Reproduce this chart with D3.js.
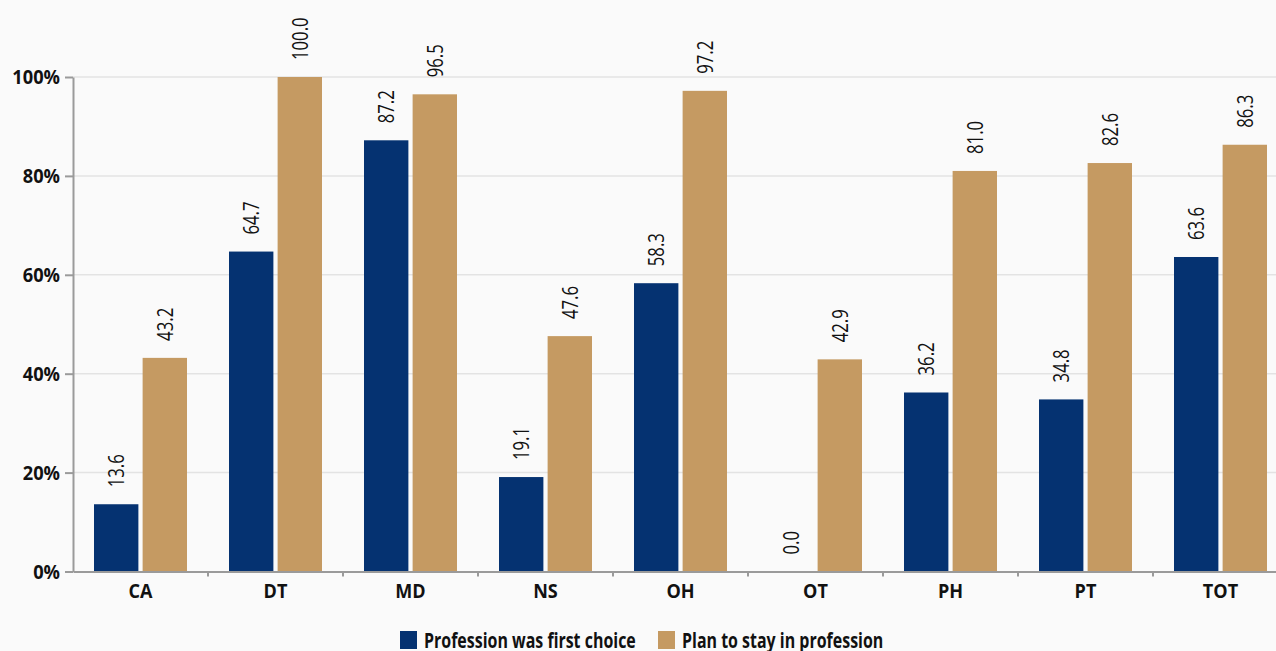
<!DOCTYPE html>
<html><head><meta charset="utf-8">
<script src="https://cdn.jsdelivr.net/npm/d3@7"></script>
<style>
html,body{margin:0;padding:0;background:#fafafa;}
svg{display:block;}
</style></head>
<body><svg id="c" width="1276" height="651"></svg>
<script>
const categories = ["CA","DT","MD","NS","OH","OT","PH","PT","TOT"];
const firstChoice = [13.6,64.7,87.2,19.1,58.3,0.0,36.2,34.8,63.6];
const planStay = [43.2,100.0,96.5,47.6,97.2,42.9,81.0,82.6,86.3];
const seriesNames = ["Profession was first choice","Plan to stay in profession"];
const yTicks = [0,20,40,60,80,100];

const colors = ["#053271","#c59a62"];
const font = "'Open Sans','Noto Sans',sans-serif";
const svg = d3.select("#c");
const x0 = 73, x1 = 73 + 9*135, yTop = 77, yBot = 571.5;

function squeeze(sel, ratio){
  sel.each(function(){
    const L = this.getComputedTextLength();
    d3.select(this).attr("textLength", L*ratio).attr("lengthAdjust","spacingAndGlyphs");
  });
}

const x = d3.scaleBand().domain(categories).range([x0,x1]).paddingInner(0).paddingOuter(0);
const xs = d3.scaleBand().domain([0,1]).range([21, 135-21]).paddingInner(8/92);
const y = d3.scaleLinear().domain([0,100]).range([yBot,yTop]);

// grid
svg.append("g").selectAll("line").data(yTicks.filter(d=>d>0)).join("line")
  .attr("x1",x0).attr("x2",1276).attr("y1",d=>y(d)).attr("y2",d=>y(d))
  .attr("stroke","#e3e3e3").attr("stroke-width",1.5);

const data = categories.map((c,i)=>({c, v:[firstChoice[i],planStay[i]]}));
const g = svg.append("g").selectAll("g").data(data).join("g")
  .attr("transform",d=>`translate(${x(d.c)},0)`);
g.selectAll("rect").data(d=>d.v.map((v,k)=>({v,k}))).join("rect")
  .attr("x",d=>xs(d.k)).attr("width",xs.bandwidth())
  .attr("y",d=>y(d.v)).attr("height",d=>yBot-y(d.v))
  .attr("fill",d=>colors[d.k]);
const vl = g.selectAll("text").data(d=>d.v.map((v,k)=>({v,k}))).join("text")
  .attr("transform",d=>`translate(${xs(d.k)+xs.bandwidth()/2},${y(d.v)-17}) rotate(-90)`)
  .attr("text-anchor","start").attr("dy","0.36em")
  .attr("font-family",font).attr("font-size",22).attr("fill","#111")
  .text(d=>d.v.toFixed(1));
squeeze(vl, 0.76);

// y axis
const ya = svg.append("g").attr("transform",`translate(${x0},0)`)
  .call(d3.axisLeft(y).tickValues(yTicks).tickFormat(d=>d+"%").tickSize(8).tickSizeOuter(0));
ya.select(".domain").attr("stroke","#9a9a9a").attr("stroke-width",2);
ya.selectAll(".tick line").attr("stroke","#9a9a9a").attr("stroke-width",2);
ya.selectAll("text").attr("font-family",font).attr("font-weight","bold")
  .attr("font-size",19).attr("fill","#111").attr("x",-13).attr("dy","0.36em");
squeeze(ya.selectAll("text"), 0.96);

// x axis
const xa = svg.append("g").attr("transform",`translate(0,${yBot})`)
  .call(d3.axisBottom(x).tickSize(0).tickSizeOuter(0));
xa.select(".domain").attr("stroke","#9a9a9a").attr("stroke-width",2);
xa.selectAll("text").attr("font-family",font).attr("font-weight","bold")
  .attr("font-size",19).attr("fill","#111").attr("y",26.5).attr("dy","0");
squeeze(xa.selectAll("text"), 0.95);
svg.append("g").selectAll("line").data(d3.range(1,10)).join("line")
  .attr("x1",i=>x0+i*x.step()).attr("x2",i=>x0+i*x.step())
  .attr("y1",yBot).attr("y2",yBot+5).attr("stroke","#9a9a9a").attr("stroke-width",2);

// legend
const leg = svg.append("g");
const lx = [400,658];
seriesNames.forEach((n,i)=>{
  leg.append("rect").attr("x",lx[i]).attr("y",631).attr("width",17).attr("height",18).attr("fill",colors[i]);
  const t = leg.append("text").attr("x",lx[i]+24).attr("y",648).text(n)
    .attr("font-family",font).attr("font-weight","bold")
    .attr("font-size",21).attr("fill","#111");
  squeeze(t, 0.76);
});
</script></body></html>
